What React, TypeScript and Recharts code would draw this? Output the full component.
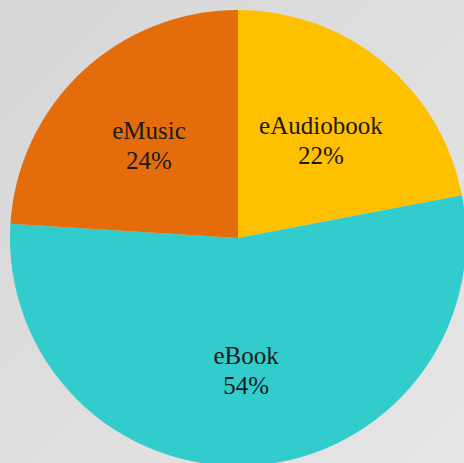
import { PieChart, Pie, Cell } from 'recharts';

const categories = ['eAudiobook', 'eBook', 'eMusic'];
const shares = [22, 54, 24];
const COLORS = ['#FFC000', '#33CCCC', '#E46C0A'];

const data = categories.map((name, i) => ({ name, value: shares[i] }));

const RADIAN = Math.PI / 180;

const renderLabel = (props: any) => {
  const { cx, cy, midAngle, outerRadius, name, value } = props;
  const r = outerRadius * 0.57;
  const x = cx + r * Math.cos(-midAngle * RADIAN);
  const y = cy + r * Math.sin(-midAngle * RADIAN);
  return (
    <text
      x={x}
      y={y}
      textAnchor="middle"
      fill="#1a1a1a"
      style={{ fontFamily: 'Liberation Serif, Times New Roman, serif', fontSize: 25 }}
    >
      <tspan x={x} dy={-4}>{name}</tspan>
      <tspan x={x} dy={30}>{`${value}%`}</tspan>
    </text>
  );
};

const App = () => {
  return (
    <div
      style={{
        position: 'fixed',
        top: 0,
        left: 0,
        width: 464,
        height: 463,
        background: 'linear-gradient(135deg, #d6d6d6 0%, #dedede 50%, #e6e6e6 100%)',
      }}
    >
      <PieChart width={464} height={463} margin={{ top: 0, right: 0, bottom: 0, left: 0 }}>
        <Pie
          data={data}
          dataKey="value"
          nameKey="name"
          cx={238}
          cy={238}
          outerRadius={228}
          startAngle={90}
          endAngle={-270}
          stroke="none"
          labelLine={false}
          label={renderLabel}
          isAnimationActive={false}
        >
          {data.map((entry, index) => (
            <Cell key={`cell-${index}`} fill={COLORS[index % COLORS.length]} />
          ))}
        </Pie>
      </PieChart>
    </div>
  );
};

export default App;
